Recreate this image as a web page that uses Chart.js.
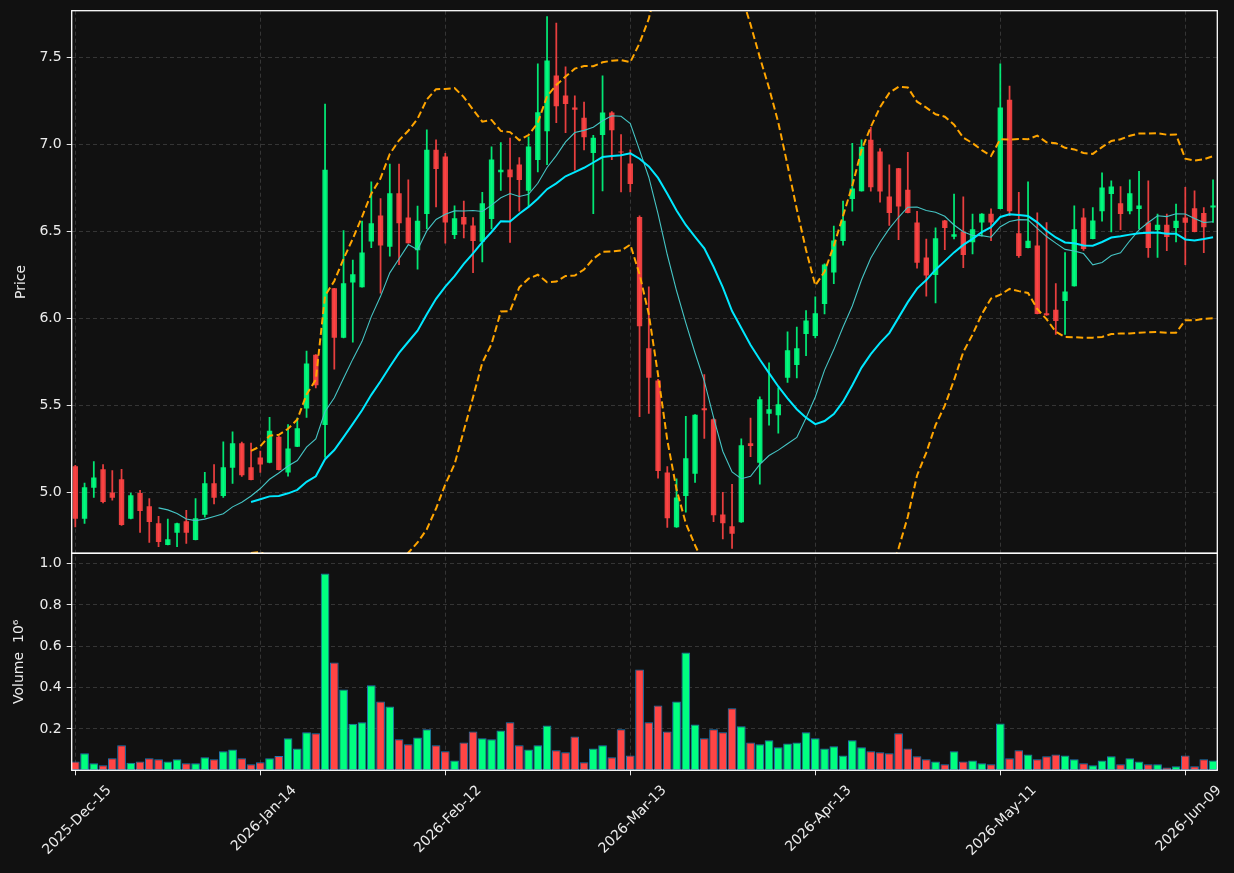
<!DOCTYPE html>
<html><head><meta charset="utf-8">
<style>html,body{margin:0;padding:0;background:#111111;overflow:hidden}#wrap{width:1234px;height:873px}</style>
<script src="https://cdn.jsdelivr.net/npm/chart.js@4.4.0/dist/chart.umd.min.js"></script>
</head><body><div id="wrap"><canvas id="c" width="1234" height="873"></canvas></div>
<script>
// ---- data ----
const opens  = [5.150,4.848,5.027,5.133,5.000,5.076,4.848,4.996,4.920,4.823,4.698,4.768,4.834,4.727,4.871,5.053,4.979,5.142,5.283,5.144,
5.201,5.170,5.320,5.115,5.263,5.482,5.792,5.388,6.174,5.889,6.207,6.180,6.443,6.593,6.412,6.720,6.581,6.392,6.601,6.970,
6.931,6.480,6.583,6.535,6.441,6.572,6.841,6.857,6.886,6.734,6.911,7.077,7.397,7.282,7.213,7.155,6.952,7.055,7.184,6.958,
6.892,6.583,5.829,5.644,5.115,4.799,4.979,5.107,5.484,5.421,4.873,4.805,4.828,5.283,5.170,5.452,5.443,5.659,5.733,5.911,
5.899,6.084,6.264,6.445,6.687,6.732,7.028,6.960,6.702,6.864,6.741,6.552,6.351,6.250,6.564,6.470,6.500,6.439,6.552,6.603,
6.630,7.258,6.490,6.406,6.420,6.030,6.051,6.100,6.186,6.581,6.457,6.617,6.716,6.663,6.617,6.630,6.552,6.509,6.539,6.521,
6.581,6.634,6.607,6.638];
const highs  = [5.155,5.053,5.177,5.160,5.125,5.133,4.996,5.012,4.965,4.862,4.846,4.823,4.897,4.965,5.115,5.160,5.291,5.349,5.290,5.283,
5.238,5.431,5.325,5.390,5.427,5.813,5.792,7.233,6.174,6.505,6.336,6.560,6.786,6.689,6.888,6.888,6.798,6.646,7.085,7.028,
6.950,6.648,6.675,6.580,6.726,6.987,7.011,7.038,6.925,7.044,7.465,7.736,7.699,7.447,7.280,7.245,7.053,7.395,7.190,7.057,
6.970,6.590,6.182,5.650,5.148,5.078,5.437,5.447,5.677,5.425,5.000,5.047,5.308,5.427,5.550,5.745,5.601,5.924,5.950,6.045,
6.125,6.315,6.531,6.675,7.007,7.028,7.100,6.977,6.884,6.864,6.956,6.617,6.457,6.521,6.564,6.716,6.700,6.601,6.603,6.630,
7.465,7.336,6.726,6.786,6.607,6.552,6.201,6.379,6.648,6.632,6.638,6.837,6.792,6.759,6.798,6.847,6.792,6.601,6.601,6.658,
6.755,6.734,6.638,6.798];
const lows   = [4.801,4.821,4.971,4.940,4.955,4.810,4.848,4.770,4.713,4.688,4.698,4.688,4.706,4.727,4.858,4.934,4.971,5.051,5.092,5.072,
5.115,5.170,5.129,5.094,5.263,5.431,5.601,5.201,5.708,5.889,5.864,6.180,6.408,6.145,6.359,6.310,6.433,6.283,6.515,6.642,
6.433,6.459,6.463,6.264,6.326,6.515,6.736,6.437,6.617,6.648,6.843,6.884,7.126,7.069,6.853,6.970,6.603,6.734,6.913,6.728,
6.728,5.435,5.454,5.082,4.799,4.799,4.887,5.057,5.310,4.832,4.733,4.678,4.828,5.205,5.047,5.386,5.341,5.632,5.659,5.786,
5.889,6.026,6.200,6.422,6.617,6.732,6.732,6.669,6.535,6.453,6.607,6.289,6.129,6.090,6.396,6.457,6.293,6.371,6.474,6.447,
6.630,6.591,6.351,6.406,6.026,6.018,5.909,5.909,6.186,6.392,6.457,6.560,6.498,6.511,6.601,6.515,6.351,6.351,6.390,6.441,
6.310,6.498,6.379,6.552];
const closes = [4.848,5.029,5.086,4.945,4.969,4.813,4.984,4.893,4.830,4.715,4.731,4.823,4.768,4.852,5.053,4.969,5.144,5.283,5.099,5.072,
5.160,5.355,5.129,5.252,5.369,5.741,5.616,6.856,5.889,6.203,6.254,6.379,6.548,6.420,6.720,6.548,6.433,6.562,6.970,6.860,
6.552,6.576,6.541,6.445,6.663,6.915,6.855,6.812,6.796,6.989,7.186,7.484,7.221,7.233,7.200,7.042,7.040,7.184,7.083,6.954,
6.773,5.956,5.659,5.123,4.852,4.971,5.197,5.447,5.472,4.869,4.823,4.762,5.271,5.267,5.536,5.478,5.507,5.817,5.829,5.989,
6.030,6.310,6.449,6.562,6.747,6.987,6.755,6.730,6.607,6.644,6.607,6.320,6.248,6.461,6.521,6.484,6.365,6.513,6.603,6.552,
7.213,6.617,6.359,6.447,6.026,6.018,5.985,6.156,6.513,6.400,6.564,6.753,6.759,6.601,6.720,6.650,6.406,6.539,6.468,6.562,
6.550,6.498,6.525,6.650];
// volume in millions of shares
const volumes = [0.043,0.082,0.034,0.024,0.058,0.121,0.037,0.043,0.058,0.053,0.043,0.053,0.034,0.034,0.063,0.053,0.092,0.101,0.058,0.029,
0.039,0.058,0.069,0.155,0.106,0.184,0.179,0.952,0.522,0.391,0.225,0.232,0.411,0.333,0.309,0.150,0.126,0.159,0.198,0.121,
0.092,0.047,0.135,0.188,0.155,0.150,0.193,0.232,0.121,0.101,0.121,0.217,0.097,0.087,0.164,0.039,0.106,0.121,0.063,0.198,
0.072,0.488,0.232,0.314,0.188,0.333,0.570,0.222,0.155,0.198,0.184,0.300,0.213,0.135,0.126,0.145,0.111,0.130,0.135,0.184,
0.155,0.106,0.116,0.072,0.145,0.111,0.092,0.087,0.082,0.179,0.106,0.068,0.053,0.043,0.029,0.092,0.043,0.048,0.034,0.029,
0.227,0.058,0.097,0.077,0.053,0.068,0.077,0.072,0.053,0.034,0.024,0.048,0.068,0.029,0.058,0.043,0.029,0.029,0.014,0.019,
0.072,0.019,0.053,0.048];
const startDate = '2025-12-15';
const holidays = ['2025-12-25','2026-01-01','2026-01-19','2026-02-16','2026-04-03','2026-05-25'];
const priceTicks = [5.0,5.5,6.0,6.5,7.0,7.5];
const volumeTicks = [0.2,0.4,0.6,0.8,1.0];
const dateTickStep = 20;
const maShort = 10, maLong = 20, bbMult = 2;

// ---- trading-day categories ----
const MONTHS = ['Jan','Feb','Mar','Apr','May','Jun','Jul','Aug','Sep','Oct','Nov','Dec'];
const dates = [];
{
  let d = new Date(startDate + 'T00:00:00Z');
  while (dates.length < closes.length) {
    const iso = d.toISOString().slice(0,10);
    const wd = d.getUTCDay();
    if (wd !== 0 && wd !== 6 && !holidays.includes(iso)) {
      dates.push(d.getUTCFullYear() + '-' + MONTHS[d.getUTCMonth()] + '-' + String(d.getUTCDate()).padStart(2,'0'));
    }
    d = new Date(d.getTime() + 86400000);
  }
}

// ---- indicators derived from the closes ----
function sma(arr, n) {
  return arr.map((_, i) => {
    if (i < n - 1) return null;
    let s = 0; for (let k = i - n + 1; k <= i; k++) s += arr[k];
    return s / n;
  });
}
function stdev(arr, n, mean) {
  return arr.map((_, i) => {
    if (i < n - 1) return null;
    let s = 0; for (let k = i - n + 1; k <= i; k++) s += (arr[k] - mean[i]) ** 2;
    return Math.sqrt(s / n);
  });
}
const ma10 = sma(closes, maShort);
const ma20 = sma(closes, maLong);
const sd20 = stdev(closes, maLong, ma20);
const bbUp = ma20.map((m, i) => m === null ? null : m + bbMult * sd20[i]);
const bbLo = ma20.map((m, i) => m === null ? null : m - bbMult * sd20[i]);

const UP = 'rgba(0,255,128,0.9)', DOWN = 'rgba(255,68,68,0.9)';
const VUP = '#00ff80', VDOWN = '#ff4545';
const isUp = closes.map((c, i) => c >= opens[i]);
const pts = arr => arr.map((v, i) => ({x: i, y: v})).filter(p => p.y !== null);

Chart.defaults.font.family = 'DejaVu Sans';
Chart.defaults.font.size = 14;
Chart.defaults.color = '#ececec';

const GRID = '#3a3a3a';
const TXT = '#ececec';

const bgPlugin = {
  id: 'bg',
  beforeDraw(chart) {
    const c = chart.ctx; c.save(); c.fillStyle = '#111111';
    c.fillRect(0, 0, chart.width, chart.height); c.restore();
  }
};
const panelClip = {
  id: 'panelClip',
  beforeDatasetDraw(chart, args) {
    const ys = chart.scales[args.meta.yAxisID];
    const a = chart.chartArea;
    const c = chart.ctx; c.save(); c.beginPath();
    c.rect(a.left, ys.top, a.right - a.left, ys.bottom - ys.top); c.clip();
  },
  afterDatasetDraw(chart) { chart.ctx.restore(); }
};
const frames = {
  id: 'frames',
  afterDraw(chart) {
    const c = chart.ctx, a = chart.chartArea;
    c.save(); c.strokeStyle = '#ffffff'; c.lineWidth = 1.3;
    ['y', 'yv'].forEach(id => {
      const s = chart.scales[id];
      c.strokeRect(a.left, s.top, a.right - a.left, s.bottom - s.top);
    });
    c.restore();
  }
};
const fitY = s => { s.width = 71.7; s.paddingTop = 0; s.paddingBottom = 0; };

new Chart(document.getElementById('c'), {
  data: {
    datasets: [
      {type: 'line', label: 'BB upper', data: pts(bbUp), yAxisID: 'y', borderColor: '#ffa500', borderWidth: 2, borderDash: [7, 3.5], pointRadius: 0, order: 1},
      {type: 'line', label: 'BB lower', data: pts(bbLo), yAxisID: 'y', borderColor: '#ffa500', borderWidth: 2, borderDash: [7, 3.5], pointRadius: 0, order: 1},
      {type: 'line', label: 'MA20', data: pts(ma20), yAxisID: 'y', borderColor: '#00e8ff', borderWidth: 2, pointRadius: 0, order: 2},
      {type: 'line', label: 'MA10', data: pts(ma10), yAxisID: 'y', borderColor: '#45c4c4', borderWidth: 1.1, pointRadius: 0, order: 3},
      {type: 'bar', label: 'body', data: opens.map((o, i) => ({x: i, y: [o, closes[i]]})), yAxisID: 'y',
        backgroundColor: isUp.map(u => u ? UP : DOWN), borderWidth: 0, grouped: false,
        barPercentage: 0.58, categoryPercentage: 1, minBarLength: 1, order: 9},
      {type: 'bar', label: 'wick', data: lows.map((l, i) => ({x: i, y: [l, highs[i]]})), yAxisID: 'y',
        backgroundColor: isUp.map(u => u ? UP : DOWN), borderWidth: 0, grouped: false,
        barThickness: 1.1, order: 10},
      {type: 'bar', label: 'volume', data: volumes.map((v, i) => ({x: i, y: v})), yAxisID: 'yv',
        backgroundColor: isUp.map(u => u ? VUP : VDOWN), borderColor: '#1f77b4', borderWidth: 1,
        borderSkipped: false, grouped: false, barPercentage: 0.94, categoryPercentage: 1, order: 5}
    ]
  },
  options: {
    responsive: false, animation: false, devicePixelRatio: 1,
    layout: {padding: {top: 10.7, right: 16.7, left: 0, bottom: 0}},
    plugins: {legend: {display: false}, tooltip: {enabled: false}},
    scales: {
      x: {
        type: 'linear', min: -0.39, max: 123.46, offset: false,
        afterBuildTicks: s => { s.ticks = dates.map((_, i) => i).filter(i => i % dateTickStep === 0).map(v => ({value: v})); },
        afterFit: s => { s.height = 102.7; s.paddingLeft = 0; s.paddingRight = 0; },
        ticks: {callback: v => dates[v], maxRotation: 45, minRotation: 45, padding: 7, labelOffset: 34, color: TXT, font: {size: 14}, autoSkip: false},
        grid: {offset: false, color: GRID, lineWidth: 0.9, tickColor: '#ffffff', tickLength: 5, tickBorderDash: []},
        border: {display: false, dash: [4, 3]}
      },
      yv: {
        type: 'linear', position: 'left', stack: 'panels', stackWeight: 2, weight: 1, min: 0, max: 1.05,
        afterBuildTicks: s => { s.ticks = volumeTicks.map(v => ({value: v})); },
        afterFit: fitY,
        ticks: {callback: v => v.toFixed(1), padding: 5, color: TXT},
        grid: {color: GRID, lineWidth: 0.9, tickColor: '#ffffff', tickLength: 5, tickBorderDash: []},
        border: {display: false, dash: [4, 3]},
        title: {display: true, text: 'Volume  10\u2076', color: TXT, font: {size: 14}, padding: {top: 11, bottom: 0}}
      },
      y: {
        type: 'linear', position: 'left', stack: 'panels', stackWeight: 5, weight: 2, min: 4.65, max: 7.77,
        afterBuildTicks: s => { s.ticks = priceTicks.map(v => ({value: v})); },
        afterFit: fitY,
        ticks: {callback: v => v.toFixed(1), padding: 5, color: TXT},
        grid: {color: GRID, lineWidth: 0.9, tickColor: '#ffffff', tickLength: 5, tickBorderDash: []},
        border: {display: false, dash: [4, 3]},
        title: {display: true, text: 'Price', color: TXT, font: {size: 14}, padding: {top: 13, bottom: 0}}
      }
    }
  },
  plugins: [bgPlugin, panelClip, frames]
});
</script></body></html>
